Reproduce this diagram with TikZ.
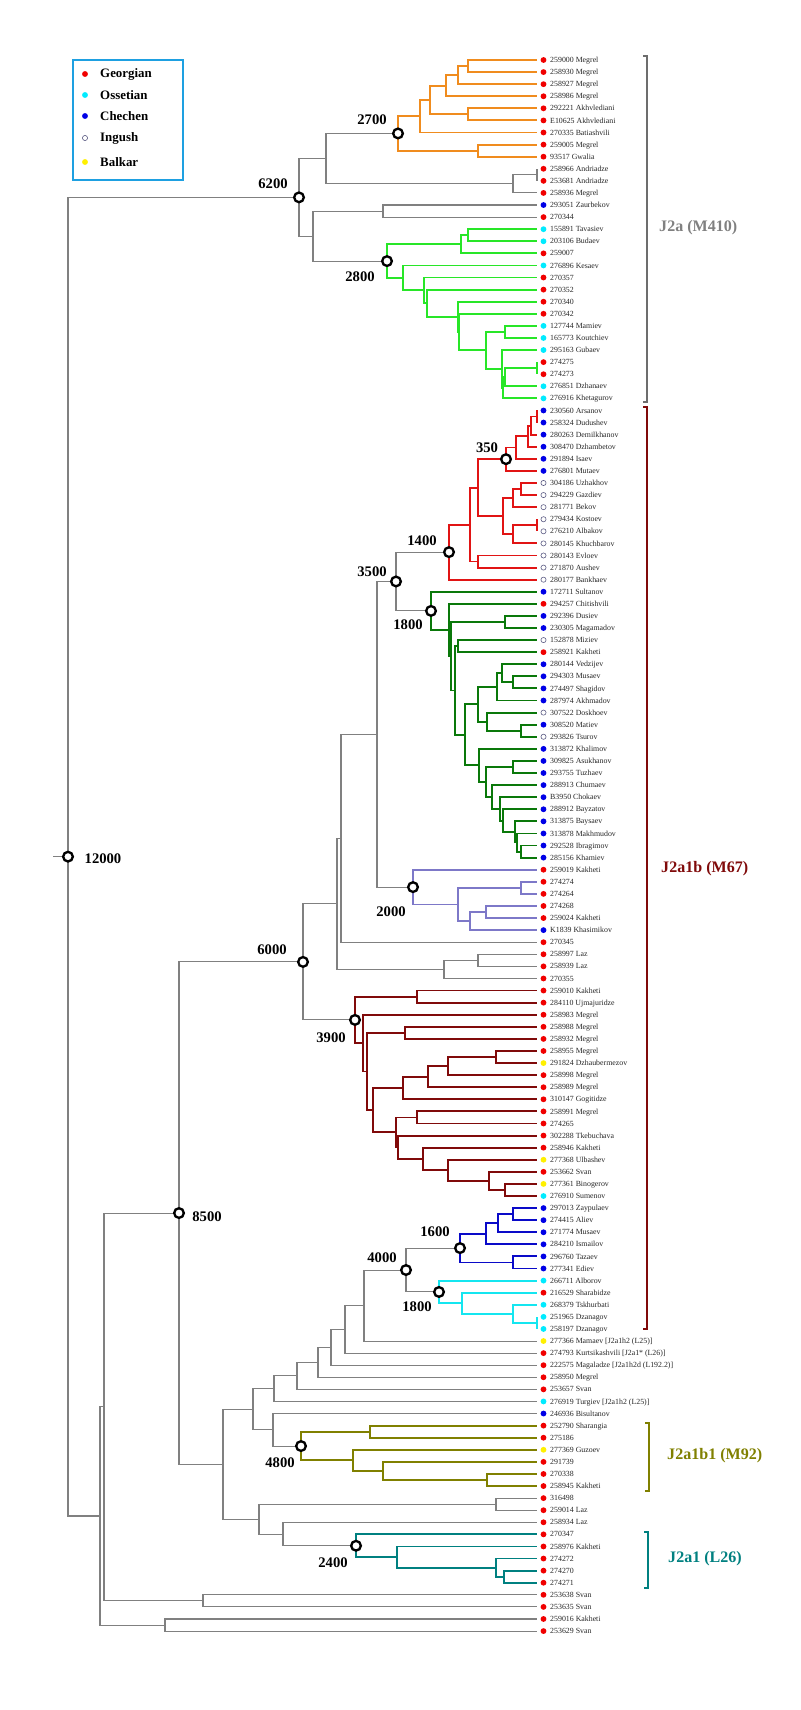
\documentclass[tikz,border=0pt]{standalone}
\usepackage{fontspec}
\setmainfont{Liberation Serif}
\definecolor{linegray}{RGB}{128,128,128}
\definecolor{orng}{RGB}{240,140,30}
\definecolor{lgrn}{RGB}{40,230,40}
\definecolor{redc}{RGB}{225,20,20}
\definecolor{dgrn}{RGB}{10,120,10}
\definecolor{lav}{RGB}{125,120,200}
\definecolor{mrn}{RGB}{128,10,10}
\definecolor{bluc}{RGB}{10,10,200}
\definecolor{cync}{RGB}{20,230,240}
\definecolor{oliv}{RGB}{128,128,0}
\definecolor{tealc}{RGB}{0,128,128}
\definecolor{dotred}{RGB}{240,0,0}
\definecolor{dotcyan}{RGB}{0,235,255}
\definecolor{dotblue}{RGB}{0,0,230}
\definecolor{dotyel}{RGB}{255,240,0}
\definecolor{inggray}{RGB}{90,90,130}
\definecolor{legblue}{RGB}{30,160,225}
\newcommand\ry[1]{60+12.085*(#1-1)}
\begin{document}
\begin{tikzpicture}[x=0.03cm, y=-0.03cm,
    gline/.style={draw=linegray, line width=0.9pt},
    cl/.style={draw=#1, line width=1.6pt},
    geo/.style={circle, fill=dotred, inner sep=0pt, minimum size=1.75mm},
    oss/.style={circle, fill=dotcyan, inner sep=0pt, minimum size=1.75mm},
    che/.style={circle, fill=dotblue, inner sep=0pt, minimum size=1.75mm},
    bal/.style={circle, fill=dotyel, inner sep=0pt, minimum size=1.75mm},
    ing/.style={circle, draw=inggray, fill=white, line width=0.5pt, inner sep=0pt, minimum size=1.55mm},
    leaftext/.style={anchor=base west, inner sep=0pt, font=\fontsize{6.7}{8}\selectfont, text=black!85},
    age/.style={circle, draw=black, line width=2pt, fill=white, minimum size=2.9mm, inner sep=0pt},
    agetext/.style={font=\fontsize{12.5}{14}\selectfont\bfseries, inner sep=0pt},
    legtext/.style={anchor=west, inner sep=0pt, font=\fontsize{11}{13}\selectfont\bfseries},
    cladetext/.style={anchor=west, inner sep=0pt, font=\fontsize{13.7}{16}\selectfont\bfseries}]
  \useasboundingbox (0,0) rectangle (800,1710);

  % Leaves
  \foreach \i/\c/\t in {1/geo/259000 Megrel, 2/geo/258930 Megrel, 3/geo/258927 Megrel,
      4/geo/258986 Megrel, 5/geo/292221 Akhvlediani, 6/geo/E10625 Akhvlediani,
      7/geo/270335 Batiashvili, 8/geo/259005 Megrel, 9/geo/93517 Gwalia,
      10/geo/258966 Andriadze, 11/geo/253681 Andriadze, 12/geo/258936 Megrel,
      13/che/293051 Zaurbekov, 14/geo/270344, 15/oss/155891 Tavasiev, 16/oss/203106 Budaev,
      17/geo/259007, 18/oss/276896 Kesaev, 19/geo/270357, 20/geo/270352, 21/geo/270340,
      22/geo/270342, 23/oss/127744 Mamiev, 24/oss/165773 Koutchiev, 25/oss/295163 Gubaev,
      26/geo/274275, 27/geo/274273, 28/oss/276851 Dzhanaev, 29/oss/276916 Khetagurov,
      30/che/230560 Arsanov, 31/che/258324 Dudushev, 32/che/280263 Demilkhanov,
      33/che/308470 Dzhambetov, 34/che/291894 Isaev, 35/che/276801 Mutaev,
      36/ing/304186 Uzhakhov, 37/ing/294229 Gazdiev, 38/ing/281771 Bekov,
      39/ing/279434 Kostoev, 40/ing/276210 Albakov, 41/ing/280145 Khuchbarov,
      42/ing/280143 Evloev, 43/ing/271870 Aushev, 44/ing/280177 Bankhaev,
      45/che/172711 Sultanov, 46/geo/294257 Chitishvili, 47/che/292396 Dusiev,
      48/che/230305 Magamadov, 49/ing/152878 Miziev, 50/geo/258921 Kakheti,
      51/che/280144 Vedzijev, 52/che/294303 Musaev, 53/che/274497 Shagidov,
      54/che/287974 Akhmadov, 55/ing/307522 Doskhoev, 56/che/308520 Matiev,
      57/ing/293826 Tsurov, 58/che/313872 Khalimov, 59/che/309825 Asukhanov,
      60/che/293755 Tuzhaev, 61/che/288913 Chumaev, 62/che/B3950 Chokaev,
      63/che/288912 Bayzatov, 64/che/313875 Baysaev, 65/che/313878 Makhmudov,
      66/che/292528 Ibragimov, 67/che/285156 Khamiev, 68/geo/259019 Kakheti,
      69/geo/274274, 70/geo/274264, 71/geo/274268, 72/geo/259024 Kakheti,
      73/che/K1839 Khasimikov, 74/geo/270345, 75/geo/258997 Laz, 76/geo/258939 Laz,
      77/geo/270355, 78/geo/259010 Kakheti, 79/geo/284110 Ujmajuridze,
      80/geo/258983 Megrel, 81/geo/258988 Megrel, 82/geo/258932 Megrel,
      83/geo/258955 Megrel, 84/bal/291824 Dzhaubermezov, 85/geo/258998 Megrel,
      86/geo/258989 Megrel, 87/geo/310147 Gogitidze, 88/geo/258991 Megrel,
      89/geo/274265, 90/geo/302288 Tkebuchava, 91/geo/258946 Kakheti,
      92/bal/277368 Ulbashev, 93/geo/253662 Svan, 94/bal/277361 Binogerov,
      95/oss/276910 Sumenov, 96/che/297013 Zaypulaev, 97/che/274415 Aliev,
      98/che/271774 Musaev, 99/che/284210 Ismailov, 100/che/296760 Tazaev,
      101/che/277341 Ediev, 102/oss/266711 Alborov, 103/geo/216529 Sharabidze,
      104/oss/268379 Tskhurbati, 105/oss/251965 Dzanagov, 106/oss/258197 Dzanagov,
      107/bal/277366 Mamaev [J2a1h2 (L25)], 108/geo/274793 Kurtsikashvili [J2a1* (L26)],
      109/geo/222575 Magaladze [J2a1h2d (L192.2)], 110/geo/258950 Megrel,
      111/geo/253657 Svan, 112/oss/276919 Turgiev [J2a1h2 (L25)],
      113/che/246936 Bisultanov, 114/geo/252790 Sharangia, 115/geo/275186,
      116/bal/277369 Guzoev, 117/geo/291739, 118/geo/270338, 119/geo/258945 Kakheti,
      120/geo/316498, 121/geo/259014 Laz, 122/geo/258934 Laz, 123/geo/270347,
      124/geo/258976 Kakheti, 125/geo/274272, 126/geo/274270, 127/geo/274271,
      128/geo/253638 Svan, 129/geo/253635 Svan, 130/geo/259016 Kakheti,
      131/geo/253629 Svan}{
    \coordinate (L\i) at (537,{\ry{\i}});
    \node[\c] (d\i) at (543.5,{\ry{\i}}) {};
    \node[leaftext] (t\i) at (550,{\ry{\i}+2.6}) {\t};
  }

  % 2700 (orange)
  \coordinate (o12) at (468,{\ry{1.5}});
  \coordinate (o123) at (458,{\ry{2.25}});
  \coordinate (o1234) at (446,{\ry{3.125}});
  \coordinate (o56) at (468,{\ry{5.5}});
  \coordinate (oA) at (430,{\ry{4.3125}});
  \coordinate (oB) at (420,{\ry{5.656}});
  \coordinate (o89) at (478,{\ry{8.5}});
  \coordinate (oR) at (398,{\ry{7.078}});
  \draw[cl=orng] (o12) |- (L1) (o12) |- (L2) (o123) |- (o12) (o123) |- (L3)
    (o1234) |- (o123) (o1234) |- (L4) (o56) |- (L5) (o56) |- (L6)
    (oA) |- (o1234) (oA) |- (o56) (oB) |- (oA) (oB) |- (L7)
    (o89) |- (L8) (o89) |- (L9) (oR) |- (oB) (oR) |- (o89);

  % 2800 (green)
  \coordinate (g1516) at (468,{\ry{15.5}});
  \coordinate (g17) at (461,{\ry{16.25}});
  \coordinate (g2324) at (505,{\ry{23.5}});
  \coordinate (g2627) at (537,{\ry{26.5}});
  \coordinate (q1) at (505,{\ry{27.25}});
  \coordinate (q2) at (503,{\ry{28.125}});
  \coordinate (s25) at (502,{\ry{26.5625}});
  \coordinate (r23) at (486,{\ry{25.03}});
  \coordinate (g22) at (459,{\ry{23.516}});
  \coordinate (g21) at (458,{\ry{22.258}});
  \coordinate (G4) at (427,{\ry{21.129}});
  \coordinate (G3) at (424,{\ry{20.065}});
  \coordinate (G2) at (403,{\ry{19.03}});
  \coordinate (gR) at (387,{\ry{17.64}});
  \draw[cl=lgrn] (g1516) |- (L15) (g1516) |- (L16) (g17) |- (g1516) (g17) |- (L17)
    (g2324) |- (L23) (g2324) |- (L24) (g2627) |- (L26) (g2627) |- (L27)
    (q1) |- (g2627) (q1) |- (L28) (q2) |- (q1) (q2) |- (L29)
    (s25) |- (L25) (s25) |- (q2) (r23) |- (g2324) (r23) |- (s25)
    (g22) |- (L22) (g22) |- (r23) (g21) |- (L21) (g21) |- (g22)
    (G4) |- (L20) (G4) |- (g21) (G3) |- (L19) (G3) |- (G4)
    (G2) |- (L18) (G2) |- (G3) (gR) |- (g17) (gR) |- (G2);

  % J2a backbone
  \coordinate (a1011) at (537,{\ry{10.5}});
  \coordinate (a12) at (513,{\ry{11.25}});
  \coordinate (P1) at (326,{\ry{9.164}});
  \coordinate (n1314) at (383,{\ry{13.5}});
  \coordinate (P2) at (313,{\ry{15.57}});
  \coordinate (n6200) at (299,{\ry{12.367}});
  \draw[gline] (a1011) |- (L10) (a1011) |- (L11) (a12) |- (a1011) (a12) |- (L12)
    (P1) |- (oR) (P1) |- (a12) (n1314) |- (L13) (n1314) |- (L14)
    (P2) |- (n1314) (P2) |- (gR) (n6200) |- (P1) (n6200) |- (P2);

  % 1400 (red)
  \coordinate (r3031) at (537,{\ry{30.5}});
  \coordinate (r32) at (531,{\ry{31.25}});
  \coordinate (r33) at (528,{\ry{32.125}});
  \coordinate (r34) at (516,{\ry{33.06}});
  \coordinate (r350) at (506,{\ry{34.03}});
  \coordinate (r3637) at (521,{\ry{36.5}});
  \coordinate (r38) at (513,{\ry{37.25}});
  \coordinate (r3940) at (537,{\ry{39.5}});
  \coordinate (r41) at (513,{\ry{40.25}});
  \coordinate (r3641) at (503,{\ry{38.75}});
  \coordinate (r3541) at (478,{\ry{36.39}});
  \coordinate (r4243) at (478,{\ry{42.5}});
  \coordinate (r3543) at (470,{\ry{39.445}});
  \coordinate (r1400) at (449,{\ry{41.72}});
  \draw[cl=redc] (r3031) |- (L30) (r3031) |- (L31) (r32) |- (r3031) (r32) |- (L32)
    (r33) |- (r32) (r33) |- (L33) (r34) |- (r33) (r34) |- (L34)
    (r350) |- (r34) (r350) |- (L35) (r3637) |- (L36) (r3637) |- (L37)
    (r38) |- (r3637) (r38) |- (L38) (r3940) |- (L39) (r3940) |- (L40)
    (r41) |- (r3940) (r41) |- (L41) (r3641) |- (r38) (r3641) |- (r41)
    (r3541) |- (r350) (r3541) |- (r3641) (r4243) |- (L42) (r4243) |- (L43)
    (r3543) |- (r3541) (r3543) |- (r4243) (r1400) |- (r3543) (r1400) |- (L44);

  % 1800 (dark green)
  \coordinate (d4748) at (505,{\ry{47.5}});
  \coordinate (d4950) at (458,{\ry{49.5}});
  \coordinate (d5253) at (513,{\ry{52.5}});
  \coordinate (d5153) at (502,{\ry{51.75}});
  \coordinate (d5154) at (497,{\ry{52.875}});
  \coordinate (d5657) at (521,{\ry{56.5}});
  \coordinate (d5557) at (487,{\ry{55.75}});
  \coordinate (d5157) at (478,{\ry{54.31}});
  \coordinate (d5960) at (513,{\ry{59.5}});
  \coordinate (d6667) at (521,{\ry{66.5}});
  \coordinate (d6567) at (517,{\ry{65.75}});
  \coordinate (d6467) at (515,{\ry{64.875}});
  \coordinate (d6367) at (503,{\ry{63.94}});
  \coordinate (d6267) at (500,{\ry{62.97}});
  \coordinate (d6167) at (492,{\ry{61.98}});
  \coordinate (d5967) at (486,{\ry{60.74}});
  \coordinate (d5867) at (479,{\ry{59.37}});
  \coordinate (d5167) at (465,{\ry{56.84}});
  \coordinate (d4967) at (455,{\ry{53.17}});
  \coordinate (D2) at (451,{\ry{50.335}});
  \coordinate (D1) at (449,{\ry{48.17}});
  \coordinate (d1800) at (431,{\ry{46.585}});
  \draw[cl=dgrn] (d4748) |- (L47) (d4748) |- (L48) (d4950) |- (L49) (d4950) |- (L50)
    (d5253) |- (L52) (d5253) |- (L53) (d5153) |- (L51) (d5153) |- (d5253)
    (d5154) |- (d5153) (d5154) |- (L54) (d5657) |- (L56) (d5657) |- (L57)
    (d5557) |- (L55) (d5557) |- (d5657) (d5157) |- (d5154) (d5157) |- (d5557)
    (d5960) |- (L59) (d5960) |- (L60) (d6667) |- (L66) (d6667) |- (L67)
    (d6567) |- (L65) (d6567) |- (d6667) (d6467) |- (L64) (d6467) |- (d6567)
    (d6367) |- (L63) (d6367) |- (d6467) (d6267) |- (L62) (d6267) |- (d6367)
    (d6167) |- (L61) (d6167) |- (d6267) (d5967) |- (d5960) (d5967) |- (d6167)
    (d5867) |- (L58) (d5867) |- (d5967) (d5167) |- (d5157) (d5167) |- (d5867)
    (d4967) |- (d4950) (d4967) |- (d5167) (D2) |- (d4748) (D2) |- (d4967)
    (D1) |- (L46) (D1) |- (D2) (d1800) |- (L45) (d1800) |- (D1);

  % 2000 (lavender)
  \coordinate (p6970) at (521,{\ry{69.5}});
  \coordinate (p7172) at (486,{\ry{71.5}});
  \coordinate (p7173) at (470,{\ry{72.25}});
  \coordinate (p6973) at (458,{\ry{70.875}});
  \coordinate (p2000) at (413,{\ry{69.44}});
  \draw[cl=lav] (p6970) |- (L69) (p6970) |- (L70) (p7172) |- (L71) (p7172) |- (L72)
    (p7173) |- (p7172) (p7173) |- (L73) (p6973) |- (p6970) (p6973) |- (p7173)
    (p2000) |- (L68) (p2000) |- (p6973);

  % 3900 (maroon)
  \coordinate (m7879) at (417,{\ry{78.5}});
  \coordinate (m8182) at (405,{\ry{81.5}});
  \coordinate (m8384) at (496,{\ry{83.5}});
  \coordinate (m85) at (448,{\ry{84.25}});
  \coordinate (m86) at (428,{\ry{85.125}});
  \coordinate (m87) at (403,{\ry{86.06}});
  \coordinate (m8889) at (417,{\ry{88.5}});
  \coordinate (m9495) at (505,{\ry{94.5}});
  \coordinate (m9395) at (489,{\ry{93.75}});
  \coordinate (m9295) at (448,{\ry{92.875}});
  \coordinate (m9195) at (423,{\ry{91.94}});
  \coordinate (X1) at (398,{\ry{90.97}});
  \coordinate (X2) at (396,{\ry{89.73}});
  \coordinate (M3) at (373,{\ry{87.9}});
  \coordinate (M2) at (367,{\ry{84.7}});
  \coordinate (M1) at (363,{\ry{82.35}});
  \coordinate (m3900) at (355,{\ry{80.43}});
  \draw[cl=mrn] (m7879) |- (L78) (m7879) |- (L79) (m8182) |- (L81) (m8182) |- (L82)
    (m8384) |- (L83) (m8384) |- (L84) (m85) |- (m8384) (m85) |- (L85)
    (m86) |- (m85) (m86) |- (L86) (m87) |- (m86) (m87) |- (L87)
    (m8889) |- (L88) (m8889) |- (L89)
    (m9495) |- (L94) (m9495) |- (L95) (m9395) |- (L93) (m9395) |- (m9495)
    (m9295) |- (L92) (m9295) |- (m9395) (m9195) |- (L91) (m9195) |- (m9295)
    (X1) |- (L90) (X1) |- (m9195) (X2) |- (m8889) (X2) |- (X1)
    (M3) |- (m87) (M3) |- (X2) (M2) |- (m8182) (M2) |- (M3)
    (M1) |- (L80) (M1) |- (M2) (m3900) |- (m7879) (m3900) |- (M1);

  % 1600 (blue) and 1800 (cyan)
  \coordinate (b9697) at (513,{\ry{96.5}});
  \coordinate (b98) at (498,{\ry{97.25}});
  \coordinate (b99) at (486,{\ry{98.125}});
  \coordinate (b100) at (513,{\ry{100.5}});
  \coordinate (b1600) at (460,{\ry{99.31}});
  \coordinate (c105) at (537,{\ry{105.5}});
  \coordinate (c104) at (513,{\ry{104.75}});
  \coordinate (c103) at (462,{\ry{103.875}});
  \coordinate (c1800) at (439,{\ry{102.94}});
  \coordinate (n4000) at (406,{\ry{101.125}});
  \draw[cl=bluc] (b9697) |- (L96) (b9697) |- (L97) (b98) |- (b9697) (b98) |- (L98)
    (b99) |- (b98) (b99) |- (L99) (b100) |- (L100) (b100) |- (L101)
    (b1600) |- (b99) (b1600) |- (b100);
  \draw[cl=cync] (c105) |- (L105) (c105) |- (L106) (c104) |- (L104) (c104) |- (c105)
    (c103) |- (L103) (c103) |- (c104) (c1800) |- (L102) (c1800) |- (c103);
  \draw[gline] (n4000) |- (b1600) (n4000) |- (c1800);

  % 4800 (olive) and 2400 (teal)
  \coordinate (v1) at (370,{\ry{114.5}});
  \coordinate (v118) at (487,{\ry{118.5}});
  \coordinate (v2) at (383,{\ry{117.75}});
  \coordinate (v3) at (353,{\ry{116.875}});
  \coordinate (v4800) at (301,{\ry{115.69}});
  \draw[cl=oliv] (v1) |- (L114) (v1) |- (L115) (v118) |- (L118) (v118) |- (L119)
    (v2) |- (L117) (v2) |- (v118) (v3) |- (L116) (v3) |- (v2)
    (v4800) |- (v1) (v4800) |- (v3);
  \coordinate (t126) at (504,{\ry{126.5}});
  \coordinate (t125) at (496,{\ry{125.75}});
  \coordinate (t124) at (397,{\ry{124.875}});
  \coordinate (t2400) at (356,{\ry{123.94}});
  \draw[cl=tealc] (t126) |- (L126) (t126) |- (L127) (t125) |- (L125) (t125) |- (t126)
    (t124) |- (L124) (t124) |- (t125) (t2400) |- (L123) (t2400) |- (t124);

  % J2a1 backbone
  \coordinate (n3500) at (396,{\ry{44.15}});
  \coordinate (nA) at (377,{\ry{56.8}});
  \coordinate (nB) at (341,{\ry{65.4}});
  \coordinate (q7576) at (478,{\ry{75.5}});
  \coordinate (q7577) at (444,{\ry{76.25}});
  \coordinate (nC) at (337,{\ry{70.83}});
  \coordinate (n6000) at (303,{\ry{75.63}});
  \coordinate (k1) at (364,{\ry{104.06}});
  \coordinate (k2) at (345,{\ry{106.03}});
  \coordinate (k3) at (331,{\ry{107.52}});
  \coordinate (k4) at (318,{\ry{108.76}});
  \coordinate (k5) at (297,{\ry{109.88}});
  \coordinate (k6) at (274,{\ry{110.94}});
  \coordinate (k7) at (273,{\ry{114.34}});
  \coordinate (K8) at (253,{\ry{112.64}});
  \coordinate (x120) at (496,{\ry{120.5}});
  \coordinate (K10) at (283,{\ry{122.97}});
  \coordinate (K9) at (259,{\ry{121.73}});
  \coordinate (K11) at (223,{\ry{117.19}});
  \coordinate (n8500) at (179,{\ry{96.41}});
  \coordinate (s128) at (203,{\ry{128.5}});
  \coordinate (S1) at (104,{\ry{112.45}});
  \coordinate (s130) at (165,{\ry{130.5}});
  \coordinate (S2) at (100,{\ry{121.48}});
  \coordinate (root) at (68,{\ry{66.92}});
  \coordinate (rootstub) at (53,{\ry{66.92}});
  \draw[gline] (n3500) |- (r1400) (n3500) |- (d1800) (nA) |- (n3500) (nA) |- (p2000)
    (nB) |- (nA) (nB) |- (L74) (q7576) |- (L75) (q7576) |- (L76)
    (q7577) |- (q7576) (q7577) |- (L77) (nC) |- (nB) (nC) |- (q7577)
    (n6000) |- (nC) (n6000) |- (m3900)
    (k1) |- (n4000) (k1) |- (L107) (k2) |- (k1) (k2) |- (L108)
    (k3) |- (k2) (k3) |- (L109) (k4) |- (k3) (k4) |- (L110)
    (k5) |- (k4) (k5) |- (L111) (k6) |- (k5) (k6) |- (L112)
    (k7) |- (L113) (k7) |- (v4800) (K8) |- (k6) (K8) |- (k7)
    (x120) |- (L120) (x120) |- (L121) (K10) |- (L122) (K10) |- (t2400)
    (K9) |- (x120) (K9) |- (K10) (K11) |- (K8) (K11) |- (K9)
    (n8500) |- (n6000) (n8500) |- (K11)
    (s128) |- (L128) (s128) |- (L129) (S1) |- (n8500) (S1) |- (s128)
    (s130) |- (L130) (s130) |- (L131) (S2) |- (S1) (S2) |- (s130)
    (root) |- (n6200) (root) |- (S2) (rootstub) -- (root);

  % Age circles
  \foreach \n in {oR, n6200, gR, r350, r1400, n3500, d1800, p2000, n6000, m3900,
      n8500, b1600, n4000, c1800, v4800, t2400, root}
    \node[age] (c\n) at (\n) {};
  \node[agetext] at (372,120) {2700};
  \node[agetext] at (273,184) {6200};
  \node[agetext] at (360,277) {2800};
  \node[agetext] at (487,448) {350};
  \node[agetext] at (422,541) {1400};
  \node[agetext] at (372,572) {3500};
  \node[agetext] at (408,625) {1800};
  \node[agetext] at (391,912) {2000};
  \node[agetext] at (272,950) {6000};
  \node[agetext] at (331,1038) {3900};
  \node[agetext] at (207,1217) {8500};
  \node[agetext] at (103,859) {12000};
  \node[agetext] at (435,1232) {1600};
  \node[agetext] at (382,1258) {4000};
  \node[agetext] at (417,1307) {1800};
  \node[agetext] at (280,1463) {4800};
  \node[agetext] at (333,1563) {2400};

  % Legend
  \draw[legblue, line width=2pt] (73,60) rectangle (183,180);
  \node[geo] at (85,74) {};
  \node[oss] at (85,95) {};
  \node[che] at (85,116) {};
  \node[ing] at (85,138) {};
  \node[bal] at (85,162) {};
  \node[legtext] at (100,74) {Georgian};
  \node[legtext] at (100,95) {Ossetian};
  \node[legtext] at (100,116) {Chechen};
  \node[legtext] at (100,138) {Ingush};
  \node[legtext] at (100,162) {Balkar};

  % Brackets
  \draw[draw=linegray!85!black, line width=1pt] (643,56) -- (647,56) -- (647,402) -- (643,402);
  \draw[draw=mrn, line width=1.3pt] (643,407) -- (647,407) -- (647,1329) -- (643,1329);
  \draw[draw=oliv, line width=1.3pt] (645,1423) -- (649,1423) -- (649,1491) -- (645,1491);
  \draw[draw=tealc, line width=1.3pt] (644,1532) -- (648,1532) -- (648,1588) -- (644,1588);
  \node[cladetext, text=linegray] at (659,228) {J2a (M410)};
  \node[cladetext, text=mrn] at (661,869) {J2a1b (M67)};
  \node[cladetext, text=oliv] at (667,1456) {J2a1b1 (M92)};
  \node[cladetext, text=tealc] at (668,1559) {J2a1 (L26)};
\end{tikzpicture}
\end{document}
